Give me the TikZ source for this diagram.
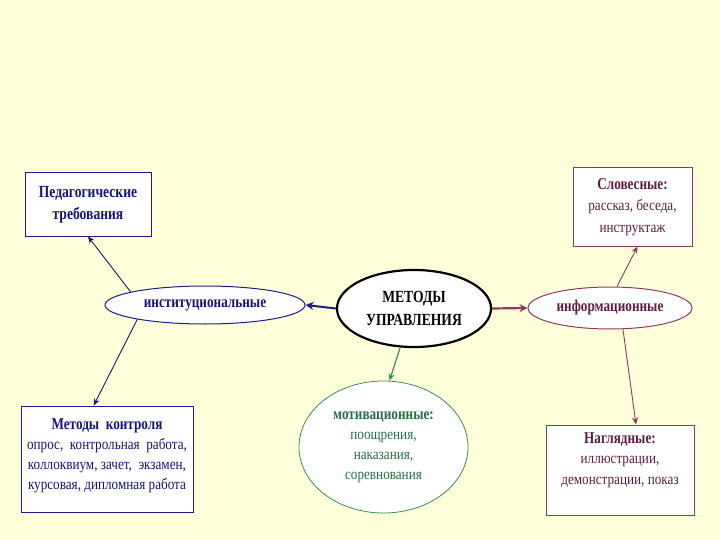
\documentclass[tikz,border=0pt]{standalone}
\usepackage{fontspec}
\setmainfont{Liberation Serif}
\newfontfamily\hdfont{Liberation Serif}[FakeStretch=0.8]
\newfontfamily\bdfont{Liberation Serif}[FakeStretch=0.85]
\usetikzlibrary{shapes.geometric,calc,arrows.meta}
\definecolor{bgc}{RGB}{255,255,217}
\definecolor{navy}{RGB}{28,28,140}
\definecolor{navytxt}{RGB}{22,22,115}
\definecolor{maroon}{RGB}{140,60,95}
\definecolor{maroontxt}{RGB}{95,30,65}
\definecolor{grn}{RGB}{60,140,90}
\definecolor{grntxt}{RGB}{40,110,70}
\tikzset{
  box/.style={draw, fill=white, rectangle, inner sep=0pt, line width=1pt},
  oval/.style={draw, fill=white, ellipse, inner sep=0pt},
  arr/.style={-{Stealth[length=7pt,width=6pt]}, line width=0.9pt},
  bigarr/.style={-{Stealth[length=8pt,width=8pt]}},
}
\begin{document}
\begin{tikzpicture}[x=1pt,y=-1pt]
\useasboundingbox[fill=bgc] (0,0) rectangle (720,540);
% boxes
\node[box, draw=navy, minimum width=126pt, minimum height=63pt, align=center,
      font=\hdfont\bfseries\fontsize{17}{22}\selectfont, text=navytxt]
  (ped) at (88,204.5) {Педагогические\\требования};
\node[box, draw=navy, minimum width=172pt, minimum height=106pt] (ctrl) at (107,459) {};
\node[align=center, text=navytxt, font=\bdfont\fontsize{15.5}{20}\selectfont] (ctrlt) at (107,456)
  {{\hdfont\bfseries\fontsize{16.5}{20}\selectfont Методы\ \ контроля}\\опрос,\ \ контрольная\ \ работа,\\коллоквиум, зачет,\ \ экзамен,\\курсовая, дипломная работа};
\node[box, draw=maroon, minimum width=119pt, minimum height=78pt, align=center,
      text=maroontxt, font=\bdfont\fontsize{15.5}{21.5}\selectfont]
  (slov) at (632.5,207) {{\hdfont\bfseries\fontsize{16.5}{21.5}\selectfont Словесные:}\\рассказ, беседа,\\инструктаж};
\node[box, draw=maroon, minimum width=148pt, minimum height=90pt] (nag) at (620,470) {};
\node[align=center, text=maroontxt, font=\bdfont\fontsize{15.5}{20.5}\selectfont] (nagt) at (620,460)
  {{\hdfont\bfseries\fontsize{16.5}{20.5}\selectfont Наглядные:}\\иллюстрации,\\демонстрации, показ};
% ellipses
\node[oval, draw=black, line width=2.2pt, minimum width=154pt, minimum height=77pt, align=center,
      font=\hdfont\bfseries\fontsize{17}{23}\selectfont]
  (main) at (414,308.5) {МЕТОДЫ\\УПРАВЛЕНИЯ};
\node[oval, draw=navy, line width=1pt, minimum width=200pt, minimum height=38pt,
      font=\hdfont\bfseries\fontsize{16.5}{20}\selectfont, text=navytxt]
  (inst) at (205,305) {институциональные};
\node[oval, draw=maroon, line width=1pt, minimum width=164pt, minimum height=42pt,
      font=\hdfont\bfseries\fontsize{16.5}{20}\selectfont, text=maroontxt]
  (info) at (610,308) {информационные};
\node[oval, draw=grn, line width=0.8pt, minimum width=169pt, minimum height=132pt, align=center,
      text=grntxt, font=\bdfont\fontsize{15.5}{20}\selectfont]
  (motiv) at (383.5,447) {{\hdfont\bfseries\fontsize{16.5}{20}\selectfont мотивационные:}\\поощрения,\\наказания,\\соревнования};
% connectors
\draw[bigarr, navy, line width=2pt] (main.west) -- (inst.east);
\draw[bigarr, maroon, line width=2.2pt] (main.east) -- (info.west);
\draw[arr, grn, line width=1.2pt] ($(main.south)+(-14,0)$) -- ($(motiv.north)+(6,0)$);
\draw[arr, navytxt] (inst.170) -- (ped.south);
\draw[arr, navytxt] (inst.192) -- (ctrl.104);
\draw[arr, maroon] ($(info.north)+(7,0)$) -- ($(slov.south)+(5,0)$);
\draw[arr, maroon] ($(info.south)+(13,0)$) -- ($(nag.north)+(16,0)$);
\end{tikzpicture}
\end{document}
